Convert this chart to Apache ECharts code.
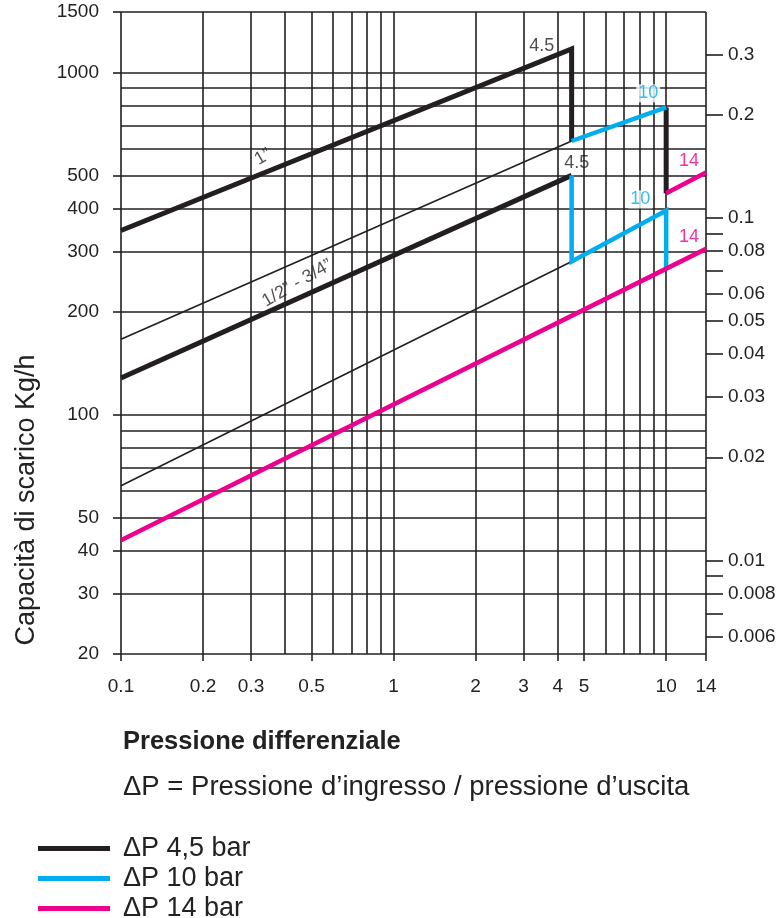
<!DOCTYPE html>
<html>
<head>
<meta charset="utf-8">
<script src="https://cdn.jsdelivr.net/npm/echarts@6/dist/echarts.min.js"></script>
<style>
html,body{margin:0;padding:0;background:#fff;}
#chart{width:781px;height:918px;}
</style>
</head>
<body>
<div id="chart"></div>
<script>
// ---- axes ----
const xGridValues = [0.1,0.2,0.3,0.4,0.5,0.6,0.7,0.8,0.9,1,2,3,4,5,6,7,8,9,10,14];
const xLabelValues = [0.1,0.2,0.3,0.5,1,2,3,4,5,10,14];
const yGridValues = [20,30,40,50,60,70,80,90,100,200,300,400,500,600,700,800,900,1000,1500];
const yLabelValues = [20,30,40,50,100,200,300,400,500,1000,1500];
const rightTickValues = [0.006,0.007,0.008,0.009,0.01,0.02,0.03,0.04,0.05,0.06,0.07,0.08,0.09,0.1,0.2,0.3];
const rightLabelValues = [0.006,0.008,0.01,0.02,0.03,0.04,0.05,0.06,0.08,0.1,0.2,0.3];

// ---- series (x = ΔP bar, y = kg/h) ----
const black1inch = [[0.1,345],[4.5,1170],[4.5,630]];
const blackDrop10 = [[10,790],[10,443]];
const blackHalf = [[0.1,128],[4.5,500]];
const thinUpper = [[0.1,166],[4.5,630]];
const thinLower = [[0.1,62],[4.5,280]];
const blueUpper = [[4.5,630],[10,790]];
const blueLower = [[4.5,500],[4.5,280],[10,395],[10,267]];
const magentaUpper = [[10,443],[14,510]];
const magentaLower = [[0.1,43],[14,305]];

// ---- annotations ----
const annotTexts = ['4.5','4.5','10','10','14','14','1”','1/2” - 3/4”'];
const annotPoints = [[4.5,1170],[4.5,500],[10,790],[10,395],[14,510],[14,305],[0.332,566],[0.443,242]];

const INK = '#231f20';
const BLUE = '#00aeef';
const MAG = '#ec008c';
const TXT = '#222222';
const FONT = '"Liberation Sans", Arial, sans-serif';

const annotStyles = [
  {color: INK, offset: [-30, -3]},
  {color: INK, offset: [5, -12]},
  {color: BLUE, offset: [-18, -14], backgroundColor: '#fff'},
  {color: BLUE, offset: [-26, -11], backgroundColor: '#fff'},
  {color: MAG, offset: [-17, -11]},
  {color: MAG, offset: [-17, -12]},
  {color: INK, offset: [0, 0], rotate: 30},
  {color: INK, offset: [0, 0], rotate: 30}
];

const chart = echarts.init(document.getElementById('chart'), null, {renderer: 'canvas'});

const yMin = 20, yMax = 1500;
const rightRatio = 0.1 / 375.5;

function plain(v) { return String(+Number(v).toPrecision(6)); }

function lineSeries(name, data, color, width) {
  return {
    name: name, type: 'line', data: data, symbol: 'none', clip: false,
    color: color, itemStyle: {color: color},
    lineStyle: {color: color, width: width, cap: 'butt', join: 'miter'},
    z: 3, silent: true, animation: false
  };
}

const option = {
  animation: false,
  textStyle: {fontFamily: FONT},
  grid: {left: 121, right: 75, top: 12, bottom: 264, outerBoundsMode: 'none', containLabel: false},
  title: [
    {text: 'Pressione differenziale', left: 123, top: 729, padding: 0,
     textStyle: {fontSize: 25.5, fontWeight: 'bold', color: TXT, fontFamily: FONT}},
    {text: 'ΔP = Pressione d’ingresso / pressione d’uscita', left: 123, top: 773, padding: 0,
     textStyle: {fontSize: 27.5, fontWeight: 'normal', color: TXT, fontFamily: FONT}}
  ],
  legend: {
    orient: 'vertical', left: 38, top: 835, height: 120, padding: 0, itemGap: 3,
    icon: 'rect', itemWidth: 72, itemHeight: 5,
    data: ['ΔP 4,5 bar', 'ΔP 10 bar', 'ΔP 14 bar'],
    textStyle: {fontSize: 27, color: TXT, fontFamily: FONT, padding: [0, 0, 0, 8]},
    selectedMode: false
  },
  graphic: [
    {type: 'text', x: 27, y: 500, rotation: Math.PI / 2,
     style: {text: 'Capacità di scarico Kg/h', fontSize: 27, fill: TXT, fontFamily: FONT,
             align: 'center', verticalAlign: 'middle'}}
  ],
  xAxis: [
    {type: 'log', logBase: 10, min: 0.1, max: 14, position: 'bottom',
     axisLine: {show: false},
     axisTick: {show: false, customValues: xGridValues},
     axisLabel: {show: false},
     splitLine: {show: true, lineStyle: {color: INK, width: 1.6}}},
    {type: 'log', logBase: 10, min: 0.1, max: 14, position: 'bottom',
     axisLine: {show: false},
     axisTick: {show: true, customValues: xLabelValues, length: 7, lineStyle: {color: INK, width: 1.6}},
     axisLabel: {show: true, customValues: xLabelValues, formatter: plain, margin: 23, fontSize: 19, color: TXT, fontFamily: FONT},
     splitLine: {show: false}}
  ],
  yAxis: [
    {type: 'log', logBase: 10, min: yMin, max: yMax, position: 'left',
     axisLine: {show: false},
     axisTick: {show: false, customValues: yGridValues},
     axisLabel: {show: false},
     splitLine: {show: true, lineStyle: {color: INK, width: 1.6}}},
    {type: 'log', logBase: 10, min: yMin, max: yMax, position: 'left',
     axisLine: {show: false},
     axisTick: {show: true, customValues: yLabelValues, length: 8, lineStyle: {color: INK, width: 1.6}},
     axisLabel: {show: true, customValues: yLabelValues, formatter: plain, margin: 22, fontSize: 19, color: TXT, fontFamily: FONT},
     splitLine: {show: false}},
    {type: 'log', logBase: 10, min: yMin * rightRatio, max: yMax * rightRatio, position: 'right',
     axisLine: {show: false},
     axisTick: {show: true, customValues: rightTickValues, length: 17, lineStyle: {color: INK, width: 1.6}},
     axisLabel: {show: true, customValues: rightLabelValues, formatter: plain, margin: 22, fontSize: 19, color: TXT, fontFamily: FONT},
     splitLine: {show: false}}
  ],
  series: [
    lineSeries('thin', thinUpper, INK, 1.6),
    lineSeries('thin', thinLower, INK, 1.6),
    lineSeries('ΔP 4,5 bar', black1inch, INK, 5),
    lineSeries('ΔP 4,5 bar', blackHalf, INK, 5),
    lineSeries('ΔP 4,5 bar', blackDrop10, INK, 5),
    lineSeries('ΔP 10 bar', blueUpper, BLUE, 4.5),
    lineSeries('ΔP 10 bar', blueLower, BLUE, 4.5),
    lineSeries('ΔP 14 bar', magentaUpper, MAG, 4.5),
    lineSeries('ΔP 14 bar', magentaLower, MAG, 4.5),
    {
      name: 'annotations', type: 'scatter', symbolSize: 0, silent: true, z: 5, animation: false,
      data: annotPoints.map(function (p, i) {
        const s = annotStyles[i];
        return {
          value: p,
          label: {
            show: true, position: 'inside', formatter: annotTexts[i],
            color: s.color, fontSize: 18, fontFamily: FONT, offset: s.offset,
            rotate: s.rotate || 0,
            backgroundColor: s.backgroundColor || 'transparent', padding: s.backgroundColor ? [0, 2] : 0
          }
        };
      })
    }
  ]
};
chart.setOption(option);
</script>
</body>
</html>
